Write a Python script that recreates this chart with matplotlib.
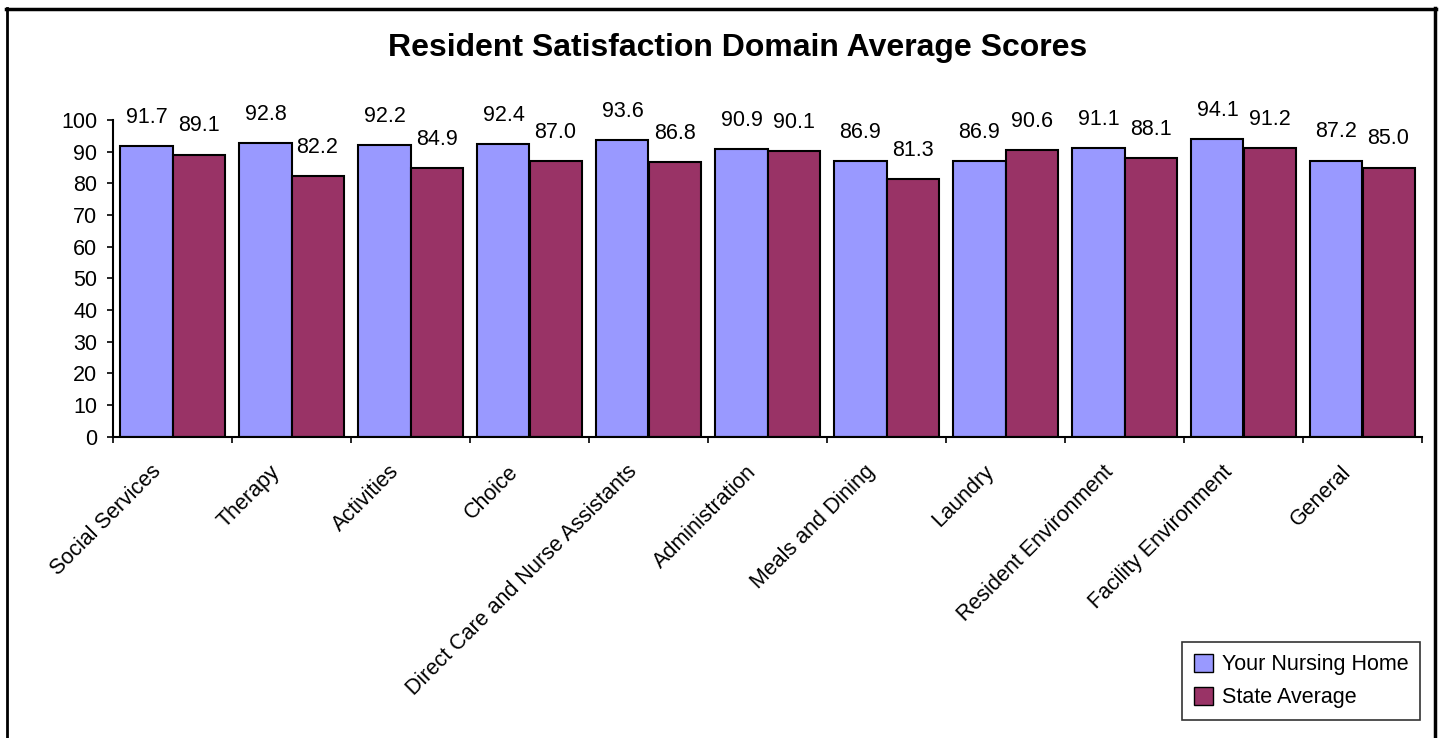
import matplotlib
matplotlib.use("Agg")
import matplotlib.pyplot as plt
import matplotlib.transforms as mtransforms
import numpy as np
from matplotlib.lines import Line2D
from matplotlib.patches import Patch

categories = ["Social Services", "Therapy", "Activities", "Choice",
              "Direct Care and Nurse Assistants", "Administration",
              "Meals and Dining", "Laundry", "Resident Environment",
              "Facility Environment", "General"]
your_home = [91.7, 92.8, 92.2, 92.4, 93.6, 90.9, 86.9, 86.9, 91.1, 94.1, 87.2]
state_avg = [89.1, 82.2, 84.9, 87.0, 86.8, 90.1, 81.3, 90.6, 88.1, 91.2, 85.0]
series_names = ["Your Nursing Home", "State Average"]
yticks = list(range(0, 101, 10))

plt.rcParams['font.family'] = ['Liberation Sans', 'DejaVu Sans']

fig = plt.figure(figsize=(14.44, 7.38), dpi=100)
W, H = 1444, 738
ax = fig.add_axes([113 / W, 1 - 436.7 / H, (1422 - 113) / W, (436.7 - 120) / H])

FS = 15.5
c_blue = "#9999FF"
c_red = "#993366"
x = np.arange(len(categories))
bw = 0.437
b1 = ax.bar(x - bw / 2, your_home, bw, color=c_blue, edgecolor="black", linewidth=1.5, zorder=2)
b2 = ax.bar(x + bw / 2, state_avg, bw, color=c_red, edgecolor="black", linewidth=1.5, zorder=2)

for bars, vals in ((b1, your_home), (b2, state_avg)):
    for r, v in zip(bars, vals):
        ax.annotate(f"{v:.1f}", (r.get_x() + r.get_width() / 2, v),
                    xytext=(0, 13), textcoords="offset points",
                    ha="center", va="bottom", fontsize=FS, annotation_clip=False)

ax.set_xlim(-0.5, len(categories) - 0.5)
ax.set_ylim(0, 100)
ax.set_yticks(yticks)
ax.tick_params(axis="y", labelsize=FS, length=4.3, width=1.2, direction="out", pad=7)

ax.set_xticks(x)
ax.set_xticklabels(categories, rotation=45, ha="right", va="top",
                   rotation_mode="anchor", fontsize=FS)
ax.tick_params(axis="x", which="major", length=0, pad=22)
shift = mtransforms.ScaledTranslation(-22 / 100, 6 / 100, fig.dpi_scale_trans)
for lbl in ax.get_xticklabels():
    lbl.set_transform(lbl.get_transform() + shift)
ax.set_xticks(np.arange(-0.5, len(categories), 1), minor=True)
ax.tick_params(axis="x", which="minor", length=4.3, width=1.2, direction="out")

for s in ("top", "right"):
    ax.spines[s].set_visible(False)
for s in ("left", "bottom"):
    ax.spines[s].set_linewidth(1.5)

fig.text(738 / W, 1 - 48 / H, "Resident Satisfaction Domain Average Scores",
         ha="center", va="center", fontsize=23, fontweight="bold")

handles = [Patch(facecolor=c_blue, edgecolor="black", linewidth=1),
           Patch(facecolor=c_red, edgecolor="black", linewidth=1)]
leg = fig.legend(handles, series_names, loc="upper left",
                 bbox_to_anchor=(1182 / W, 1 - 642 / H), fontsize=FS,
                 frameon=True, fancybox=False, edgecolor="black",
                 handlelength=0.9, handleheight=0.9, handletextpad=0.4,
                 borderpad=0.55, labelspacing=0.55, borderaxespad=0)
leg.get_frame().set_linewidth(1.2)

# outer frame
fig.add_artist(Line2D([7 / W, 7 / W], [0, 1 - 8 / H], color="black", lw=2, transform=fig.transFigure))
fig.add_artist(Line2D([6 / W, 1436 / W], [1 - 9 / H, 1 - 9 / H], color="black", lw=2.5, transform=fig.transFigure))
fig.add_artist(Line2D([1435 / W, 1435 / W], [0, 1 - 8 / H], color="black", lw=2.5, transform=fig.transFigure))

fig.savefig("out.png", dpi=100)
